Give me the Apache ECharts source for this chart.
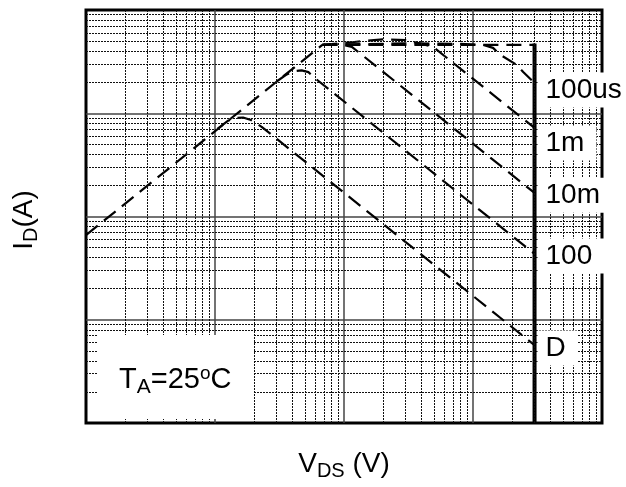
<!DOCTYPE html>
<html>
<head>
<meta charset="utf-8">
<script src="https://cdn.jsdelivr.net/npm/echarts@6/dist/echarts.min.js"></script>
<style>
html,body{margin:0;padding:0;background:#fff;}
#c{width:626px;height:487px;}
</style>
</head>
<body>
<div id="c"></div>
<script>
// ---- data (V in volts, I in amps) ----
const xRange = [0.01, 100];
const yRange = [0.01, 100];
const rdsLine = [[0.01, 0.66], [0.68, 46]];
const idLimit = [[0.68, 46], [30, 46]];
const t100us = [[0.68, 46], [3, 47.5], [8, 47], [12, 46], [14.3, 43], [16.2, 37], [21.9, 29.3], [24.5, 25.1], [30, 19.6]];
const t1ms = [[0.68, 46], [1.2, 49], [2, 52], [3, 51], [4, 47], [4.9, 44], [30, 7.2]];
const t10ms = [[0.68, 46], [0.92, 46.5], [1.15, 44], [30, 1.69]];
const t100ms = [[0.30, 20.3], [0.36, 23.8], [0.42, 25.6], [0.47, 26], [0.53, 25], [0.6, 21.7], [30, 0.434]];
const tDC = [[0.105, 7.1], [0.125, 8.4], [0.14, 9.0], [0.165, 9.1], [0.19, 8.6], [0.23, 7.39], [30, 0.0567]];
const vdsMax = [[30, 0.01], [30, 47.5]];
const curveNames = ['100us', '1m', '10m', '100', 'D'];
const curveLabelV = 30;
const curveLabelI = [16.8, 5.15, 1.61, 0.414, 0.0532];
const decades = [0.01, 0.1, 1, 10];
const minorMult = [2, 3, 4, 5, 6, 7, 8, 9];

const minorVals = [];
decades.forEach(d => minorMult.forEach(m => minorVals.push(+(d * m).toPrecision(3))));

const FONT = 'Liberation Sans, Arial, sans-serif';
const dash = { type: [15, 8], width: 2.2, color: '#000' };

function curve(data) {
  return { type: 'line', data: data, symbol: 'none', lineStyle: dash, silent: true, z: 3, animation: false };
}

const chart = echarts.init(document.getElementById('c'), null, { renderer: 'canvas' });
chart.setOption({
  animation: false,
  backgroundColor: '#fff',
  grid: { left: 86, top: 10, width: 516, height: 413, show: true, borderColor: '#000', borderWidth: 3, backgroundColor: 'transparent' },
  xAxis: {
    type: 'log', logBase: 10, min: xRange[0], max: xRange[1],
    axisLine: { show: false }, axisTick: { show: false }, axisLabel: { show: false },
    splitLine: { show: true, showMinLine: false, showMaxLine: false, lineStyle: { color: '#444', width: 1.5 } }
  },
  yAxis: {
    type: 'log', logBase: 10, min: yRange[0], max: yRange[1],
    axisLine: { show: false }, axisTick: { show: false }, axisLabel: { show: false },
    splitLine: { show: true, showMinLine: false, showMaxLine: false, lineStyle: { color: '#444', width: 1.5 } }
  },
  series: [
    {
      type: 'line', data: [[1, 1]], symbol: 'none', lineStyle: { width: 0 }, z: 1, silent: true,
      markLine: {
        silent: true, symbol: ['none', 'none'], label: { show: false }, animation: false,
        lineStyle: { color: '#111', width: 1, type: [2, 1], opacity: 1 },
        data: minorVals.map(v => ({ xAxis: v })).concat(minorVals.map(v => ({ yAxis: v })))
      }
    },
    curve(rdsLine),
    curve(idLimit),
    curve(t100us),
    curve(t1ms),
    curve(t10ms),
    curve(t100ms),
    curve(tDC),
    { type: 'line', data: vdsMax, symbol: 'none', lineStyle: { color: '#000', width: 4, type: 'solid' }, z: 4, silent: true },
    {
      type: 'scatter', symbolSize: 0, z: 6, silent: true,
      itemStyle: { opacity: 1 },
      data: curveLabelI.map((i, k) => ({ value: [curveLabelV, i], name: curveNames[k] })),
      label: {
        show: true, position: 'right', distance: 3, formatter: p => p.name,
        fontFamily: FONT, fontSize: 28, lineHeight: 28, color: '#000', opacity: 1,
        backgroundColor: '#fff', padding: [4, 12, 3, 8]
      }
    }
  ],
  graphic: [
    {
      type: 'rect', z: 20, shape: { x: 98, y: 335, width: 155, height: 84 }, style: { fill: '#fff' }
    },
    {
      type: 'text', z: 21, left: 119, top: 364,
      style: {
        text: '{a|T}{s|A}{a|=25}{o|o}{a|C}',
        rich: {
          a: { fontFamily: FONT, fontSize: 29, fill: '#000' },
          s: { fontFamily: FONT, fontSize: 21, fill: '#000', padding: [15, 0, 0, 0] },
          o: { fontFamily: FONT, fontSize: 19, fill: '#000', padding: [0, 0, 12, 0] }
        }
      }
    },
    {
      type: 'text', z: 21, x: 344, y: 464,
      style: {
        text: '{a|V}{s|DS}{a| (V)}', align: 'center', verticalAlign: 'middle',
        rich: {
          a: { fontFamily: FONT, fontSize: 28, fill: '#000' },
          s: { fontFamily: FONT, fontSize: 20, fill: '#000', padding: [15, 0, 0, 0] }
        }
      }
    },
    {
      type: 'text', z: 21, x: 24, y: 220, rotation: Math.PI / 2,
      style: {
        text: '{a|I}{s|D}{a|(A)}', align: 'center', verticalAlign: 'middle',
        rich: {
          a: { fontFamily: FONT, fontSize: 28, fill: '#000' },
          s: { fontFamily: FONT, fontSize: 20, fill: '#000', padding: [15, 0, 0, 0] }
        }
      }
    }
  ]
});
</script>
</body>
</html>
